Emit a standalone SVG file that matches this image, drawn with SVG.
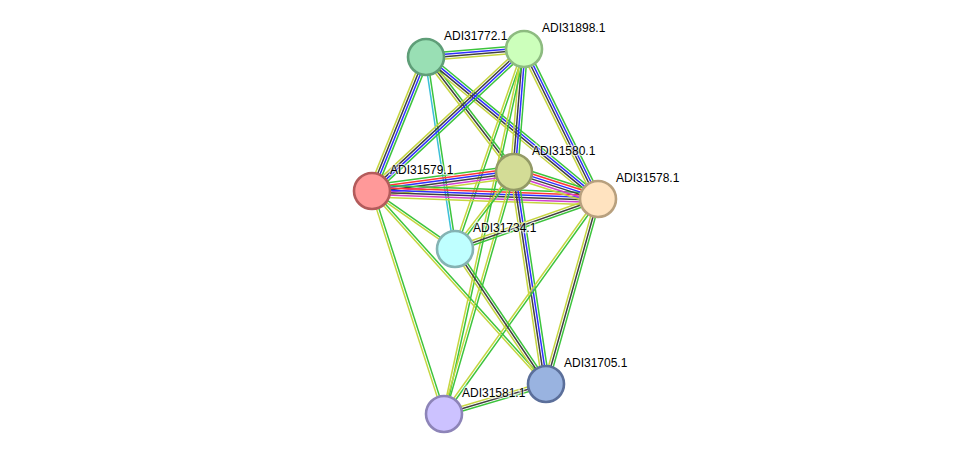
<svg xmlns="http://www.w3.org/2000/svg" xmlns:xlink="http://www.w3.org/1999/xlink" width="975" height="460" viewBox="0 0 975 460">
<style>
line{vector-effect:non-scaling-stroke;stroke-width:1.5;fill:none}
.g{stroke:#3cc43c}.b{stroke:#2e2eff}.k{stroke:#404040}.y{stroke:#c6d640}.r{stroke:#ff3535}.m{stroke:#d040d0}.c{stroke:#3cc0d8}
.node circle{stroke-width:2.6}
text{font-family:"Liberation Sans",Arial,sans-serif;font-size:12px;fill:#000;stroke:#fff;stroke-width:2.5;stroke-opacity:0.6;paint-order:stroke}
</style>
<defs>
<g id="b4"><line class="g" x1="0" y1="-3.6" x2="1" y2="-3.6"/><line class="b" x1="0" y1="-1.2" x2="1" y2="-1.2"/><line class="k" x1="0" y1="1.2" x2="1" y2="1.2"/><line class="y" x1="0" y1="3.6" x2="1" y2="3.6"/></g>
<g id="b3"><line class="g" x1="0" y1="-2.4" x2="1" y2="-2.4"/><line class="k" x1="0" y1="0" x2="1" y2="0"/><line class="y" x1="0" y1="2.4" x2="1" y2="2.4"/></g>
<g id="bgy"><line class="g" x1="0" y1="-1.2" x2="1" y2="-1.2"/><line class="y" x1="0" y1="1.2" x2="1" y2="1.2"/></g>
<g id="bgc"><line class="g" x1="0" y1="-1.2" x2="1" y2="-1.2"/><line class="c" x1="0" y1="1.2" x2="1" y2="1.2"/></g>
<g id="b6"><line class="g" x1="0" y1="-6" x2="1" y2="-6"/><line class="r" x1="0" y1="-3.6" x2="1" y2="-3.6"/><line class="b" x1="0" y1="-1.2" x2="1" y2="-1.2"/><line class="k" x1="0" y1="1.2" x2="1" y2="1.2"/><line class="m" x1="0" y1="3.6" x2="1" y2="3.6"/><line class="y" x1="0" y1="6" x2="1" y2="6"/></g>
</defs>
<rect width="975" height="460" fill="#fff"/>
<g id="edges">
<use xlink:href="#b4" transform="matrix(98 -8 0.0814 0.9967 426 57)"/>
<use xlink:href="#b4" transform="matrix(-54 134 -0.9275 -0.3738 426 57)"/>
<use xlink:href="#bgc" transform="matrix(29 192 -0.9888 0.1493 426 57)"/>
<use xlink:href="#b3" transform="matrix(88 115 -0.7941 0.6077 426 57)"/>
<use xlink:href="#b4" transform="matrix(172 142 -0.6367 0.7712 426 57)"/>
<use xlink:href="#b4" transform="matrix(-152 142 -0.6827 -0.7307 524 49)"/>
<use xlink:href="#b4" transform="matrix(-10 123 -0.9967 -0.0810 524 49)"/>
<use xlink:href="#b4" transform="matrix(74 150 -0.8968 0.4424 524 49)"/>
<use xlink:href="#bgy" transform="matrix(-69 200 -0.9453 -0.3261 524 49)"/>
<use xlink:href="#bgy" transform="matrix(-80 365 -0.9768 -0.2141 524 49)"/>
<use xlink:href="#b6" transform="matrix(142 -19 0.1326 0.9911 372 191)"/>
<use xlink:href="#b6" transform="matrix(226 8 -0.0354 0.9994 372 191)"/>
<use xlink:href="#bgy" transform="matrix(83 58 -0.5728 0.8197 372 191)"/>
<use xlink:href="#bgy" transform="matrix(174 193 -0.7427 0.6696 372 191)"/>
<use xlink:href="#bgy" transform="matrix(72 223 -0.9516 0.3073 372 191)"/>
<use xlink:href="#b6" transform="matrix(84 27 -0.3060 0.9521 514 172)"/>
<use xlink:href="#bgy" transform="matrix(-59 77 -0.7937 -0.6082 514 172)"/>
<use xlink:href="#b4" transform="matrix(32 212 -0.9888 0.1493 514 172)"/>
<use xlink:href="#bgy" transform="matrix(-70 242 -0.9606 -0.2779 514 172)"/>
<use xlink:href="#b3" transform="matrix(-143 50 -0.3301 -0.9440 598 199)"/>
<use xlink:href="#b3" transform="matrix(-52 185 -0.9627 -0.2706 598 199)"/>
<use xlink:href="#bgy" transform="matrix(-154 215 -0.8130 -0.5823 598 199)"/>
<use xlink:href="#b3" transform="matrix(91 135 -0.8292 0.5589 455 249)"/>
<use xlink:href="#b3" transform="matrix(-102 30 -0.2822 -0.9594 546 384)"/>
</g>
<g id="n772" class="node"><circle cx="426" cy="57" r="18" fill="#99dfb4" stroke="#5f9e78"/><text x="444" y="40">ADI31772.1</text></g>
<g id="n898" class="node"><circle cx="524" cy="49" r="18" fill="#ccffbb" stroke="#8dbb80"/><text x="542" y="32">ADI31898.1</text></g>
<g id="n580" class="node"><circle cx="514" cy="172" r="18" fill="#d3dc96" stroke="#939a66"/><text x="532" y="155">ADI31580.1</text></g>
<g id="n579" class="node"><circle cx="372" cy="191" r="18" fill="#ff9999" stroke="#b35b5b"/><text x="390" y="174">ADI31579.1</text></g>
<g id="n578" class="node"><circle cx="598" cy="199" r="18" fill="#ffe3c0" stroke="#b8a07e"/><text x="616" y="182">ADI31578.1</text></g>
<g id="n734" class="node"><circle cx="455" cy="249" r="18" fill="#bfffff" stroke="#85b3b3"/><text x="473" y="232">ADI31734.1</text></g>
<g id="n705" class="node"><circle cx="546" cy="384" r="18" fill="#99b3e0" stroke="#5b6f9a"/><text x="564" y="367">ADI31705.1</text></g>
<g id="n581" class="node"><circle cx="444" cy="414" r="18" fill="#ccc2ff" stroke="#8d84b8"/><text x="462" y="397">ADI31581.1</text></g>
</svg>
